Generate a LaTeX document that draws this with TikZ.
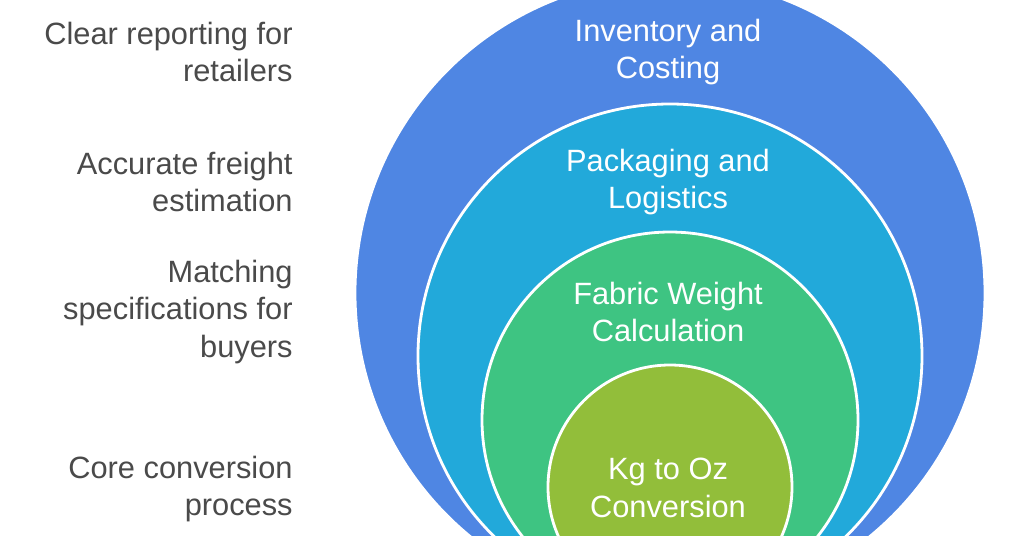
\documentclass[tikz,border=0pt]{standalone}
\usepackage{fontspec}
\setmainfont{Liberation Sans}
\usetikzlibrary{positioning}
\definecolor{ringblue}{HTML}{4F86E3}
\definecolor{ringcyan}{HTML}{22A9DA}
\definecolor{ringgreen}{HTML}{3EC482}
\definecolor{ringlime}{HTML}{92BE3A}
\definecolor{labelgray}{HTML}{4A4A4A}
\tikzstyle{ring} = [draw=white, line width=1.4pt]
\tikzstyle{ringtext} = [text=white, align=center, inner sep=0pt, font=\fontsize{15.4}{18.8}\selectfont]
\tikzstyle{sidetext} = [text=labelgray, align=right, anchor=east, inner sep=0pt, font=\fontsize{15.4}{18.8}\selectfont]

\begin{document}
\begin{tikzpicture}[x=0.5pt, y=-0.5pt]
\useasboundingbox (0,0) rectangle (1024,536);
\fill[white] (0,0) rectangle (1024,536);
\clip (0,0) rectangle (1024,536);

%Nested circles, touching at the bottom
\draw[ring, fill=ringblue] (670,293) circle (157.5pt);
\draw[ring, fill=ringcyan] (670,356) circle (126pt);
\draw[ring, fill=ringgreen] (670,420) circle (94pt);
\draw[ring, fill=ringlime] (670,487) circle (61pt);

%Circle labels
\node[ringtext] (inventory) at (668,52) {Inventory and\\Costing};
\node[ringtext] (packaging) at (668,182) {Packaging and\\Logistics};
\node[ringtext] (fabric) at (668,312) {Fabric Weight\\Calculation};
\node[ringtext] (kgoz) at (668,488) {Kg to Oz\\Conversion};

%Side labels
\node[sidetext] (retailers) at (293,52) {Clear reporting for\\retailers};
\node[sidetext] (freight) at (293,182) {Accurate freight\\estimation};
\node[sidetext] (buyers) at (293,312) {Matching\\specifications for\\buyers};
\node[sidetext] (core) at (293,489) {Core conversion\\process};

\end{tikzpicture}
\end{document}
